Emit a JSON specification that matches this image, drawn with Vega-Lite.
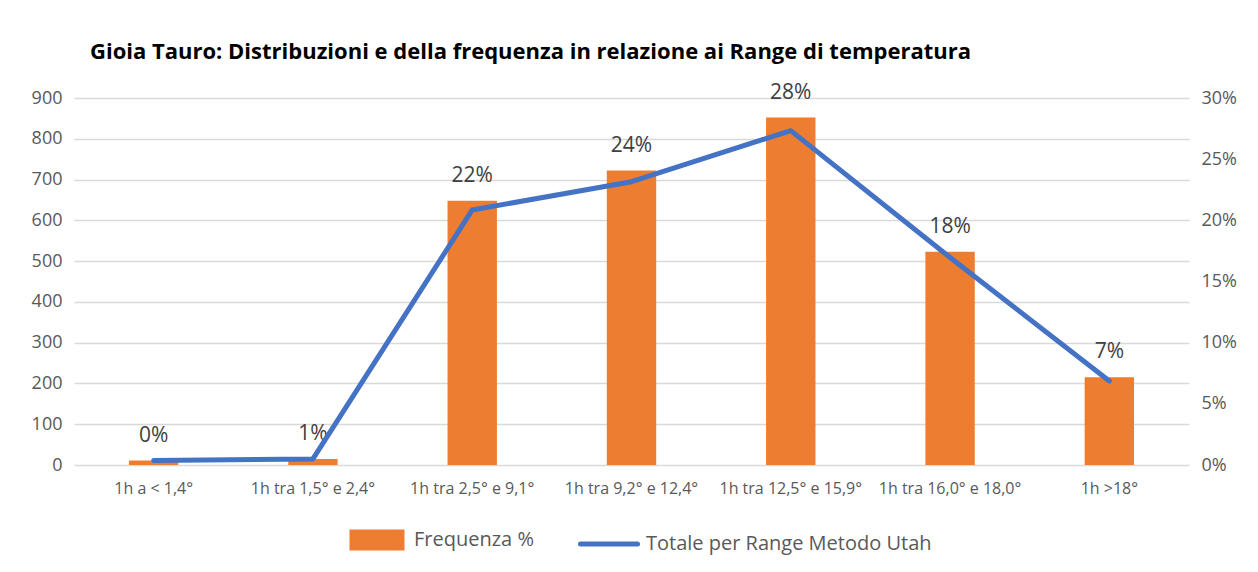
{
  "$schema": "https://vega.github.io/schema/vega-lite/v6.json",
  "width": 1115,
  "height": 367,
  "autosize": "none",
  "padding": {"left": 74, "top": 98, "right": 69, "bottom": 107},
  "background": "white",
  "title": {
    "text": "Gioia Tauro: Distribuzioni e della frequenza  in relazione ai Range di temperatura",
    "anchor": "start",
    "frame": "group",
    "dx": 16,
    "offset": 18,
    "font": "Open Sans",
    "fontSize": 22,
    "fontWeight": "bold",
    "color": "#000000"
  },
  "data": {
    "values": [
      {"fascia": "1h a < 1,4°", "ore": 11, "etichetta": "0%", "utah": 0.0037},
      {"fascia": "1h tra 1,5° e 2,4°", "ore": 15, "etichetta": "1%", "utah": 0.005},
      {"fascia": "1h tra 2,5° e 9,1°", "ore": 648, "etichetta": "22%", "utah": 0.2085},
      {"fascia": "1h tra 9,2° e 12,4°", "ore": 722, "etichetta": "24%", "utah": 0.2316},
      {"fascia": "1h tra 12,5° e 15,9°", "ore": 852, "etichetta": "28%", "utah": 0.2733},
      {"fascia": "1h tra 16,0° e 18,0°", "ore": 523, "etichetta": "18%", "utah": 0.1696},
      {"fascia": "1h >18°", "ore": 215, "etichetta": "7%", "utah": 0.0687}
    ]
  },
  "encoding": {
    "x": {
      "field": "fascia",
      "type": "nominal",
      "sort": null,
      "scale": {"paddingInner": 0.69, "paddingOuter": 0.345},
      "axis": {
        "title": null,
        "labelAngle": 0,
        "labelFontSize": 16,
        "labelPadding": 15,
        "labelLimit": 300,
        "domain": false,
        "ticks": false
      }
    }
  },
  "layer": [
    {
      "encoding": {
        "y": {
          "field": "ore",
          "type": "quantitative",
          "scale": {"domain": [0, 900]},
          "axis": {
            "title": null,
            "values": [0, 100, 200, 300, 400, 500, 600, 700, 800, 900],
            "grid": true,
            "labelPadding": 12,
            "labelFontSize": 18
          }
        }
      },
      "layer": [
        {
          "mark": {"type": "bar"},
          "encoding": {
            "color": {
              "datum": "Frequenza %",
              "type": "nominal",
              "scale": {
                "domain": ["Frequenza %", "Totale per Range Metodo Utah"],
                "range": ["#ED7D31", "#4472C4"]
              },
              "legend": {
                "title": null,
                "orient": "none",
                "legendX": 272,
                "legendY": 411,
                "direction": "horizontal",
                "labelFontSize": 20,
                "labelColor": "#595959",
                "labelFont": "Open Sans",
                "labelLimit": 500,
                "symbolSize": 3249,
                "columnPadding": 36,
                "labelOffset": 6,
                "encode": {
                  "symbols": {
                    "update": {
                      "shape": {"signal": "datum.value === 'Frequenza %' ? 'M-0.877,-0.28h1.754v0.56h-1.754z' : 'stroke'"},
                      "fill": {"signal": "datum.value === 'Frequenza %' ? '#ED7D31' : 'transparent'"},
                      "stroke": {"signal": "datum.value === 'Frequenza %' ? 'transparent' : '#4472C4'"},
                      "strokeWidth": {"value": 5},
                      "strokeCap": {"value": "round"},
                      "opacity": {"value": 1}
                    }
                  }
                }
              }
            }
          }
        },
        {
          "mark": {"type": "text", "dy": -25, "baseline": "middle", "fontSize": 21, "color": "#404040", "font": "Open Sans"},
          "encoding": {"text": {"field": "etichetta", "type": "nominal"}}
        }
      ]
    },
    {
      "mark": {"type": "line", "strokeWidth": 5, "strokeCap": "round", "strokeJoin": "round"},
      "encoding": {
        "y": {
          "field": "utah",
          "type": "quantitative",
          "scale": {"domain": [0, 0.3]},
          "axis": {
            "title": null,
            "orient": "right",
            "values": [0, 0.05, 0.1, 0.15, 0.2, 0.25, 0.3],
            "format": ".0%",
            "grid": false,
            "labelPadding": 12,
            "labelFontSize": 18
          }
        },
        "color": {"datum": "Totale per Range Metodo Utah", "type": "nominal"}
      }
    }
  ],
  "resolve": {"scale": {"y": "independent"}},
  "config": {
    "font": "Open Sans",
    "view": {"stroke": null},
    "axis": {
      "labelFont": "Open Sans",
      "labelColor": "#595959",
      "domain": false,
      "ticks": false,
      "gridColor": "#D9D9D9",
      "gridWidth": 1.3
    }
  }
}
